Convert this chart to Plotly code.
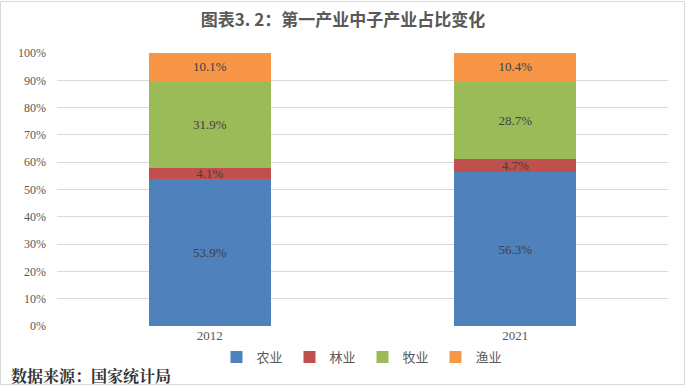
import plotly.graph_objects as go

years = ["2012", "2021"]
series_names = ["农业", "林业", "牧业", "渔业"]
agriculture = [53.9, 56.3]
forestry = [4.1, 4.7]
husbandry = [31.9, 28.7]
fishery = [10.1, 10.4]
colors = ["#4F81BD", "#C0504D", "#9BBB59", "#F79646"]
y_ticks = [0, 10, 20, 30, 40, 50, 60, 70, 80, 90, 100]
y_tick_labels = [f"{v}%" for v in y_ticks]

W, H = 686, 386
L, R, T, B = 57, 18, 53, 60

fig = go.Figure()
for name, vals, c in zip(series_names, [agriculture, forestry, husbandry, fishery], colors):
    fig.add_trace(go.Bar(
        x=years, y=vals, name=name, marker=dict(color=c, line=dict(width=0)),
        text=[f"{v:.1f}%" for v in vals], textposition="inside", insidetextanchor="middle",
        textfont=dict(family="Liberation Serif", size=13, color="#404040"),
        constraintext="none", hoverinfo="skip",
    ))

pw = W - L - R
ph = H - T - B
fig.update_layout(
    width=W, height=H, barmode="stack", bargap=0.6,
    margin=dict(l=L, r=R, t=T, b=B),
    paper_bgcolor="white", plot_bgcolor="white",
    uniformtext=dict(minsize=13, mode="show"),
    title=dict(text="<b>图表3. 2：第一产业中子产业占比变化</b>", x=0.5, xanchor="center", y=1 - 20 / H, yanchor="middle",
               font=dict(family="Noto Sans CJK SC", size=17, color="#595959")),
    xaxis=dict(showgrid=False, showline=False, ticks="", tickfont=dict(family="Liberation Serif", size=13, color="#595959")),
    yaxis=dict(range=[0, 100], tickvals=y_ticks, ticktext=y_tick_labels, showgrid=True, gridcolor="#D9D9D9", gridwidth=1,
               zeroline=False, tickfont=dict(family="Liberation Serif", size=12, color="#595959"), ticklen=0, ticks="",
               ticklabelstandoff=10),
    legend=dict(orientation="h", x=0.5, xanchor="center", y=-(357 - 326) / ph, yanchor="middle",
                font=dict(family="Noto Sans CJK SC", size=13, color="#595959"), traceorder="normal",
                itemwidth=30, tracegroupgap=0, entrywidth=28, entrywidthmode="pixels"),
    showlegend=True,
)
fig.add_annotation(text="<b>数据来源：国家统计局</b>", xref="paper", yref="paper",
                   x=-(L - 9) / pw, xanchor="left", y=-(375 - 326) / ph, yanchor="middle",
                   showarrow=False, font=dict(family="Noto Serif CJK SC, Noto Sans CJK SC", size=16, color="#333333"))
fig.add_shape(type="rect", xref="paper", yref="paper",
              x0=-(L - 0.5) / pw, x1=1 + (R - 1.5) / pw, y0=-(B - 1.5) / ph, y1=1 + (T - 1.5) / ph,
              line=dict(color="#D9D9D9", width=1), fillcolor="rgba(0,0,0,0)", layer="below")
fig.write_html("out.html", config={"displayModeBar": False},
               post_script="document.body.style.margin='0';")
